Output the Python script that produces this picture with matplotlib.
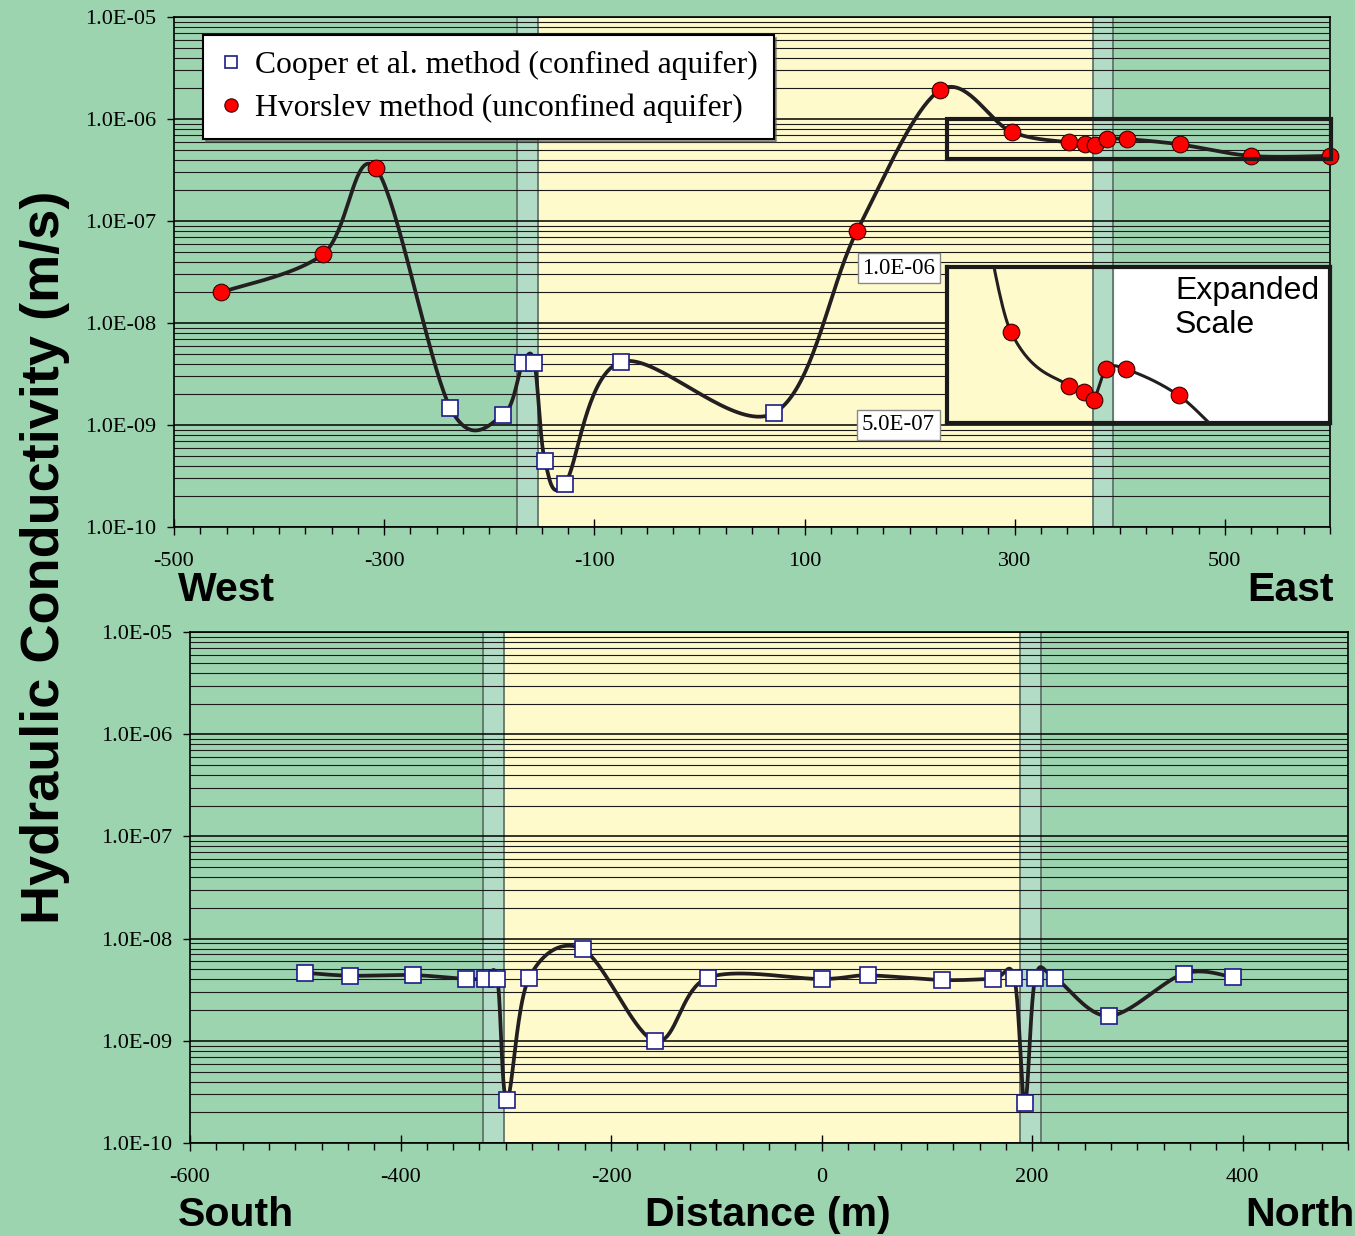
import numpy as np
import matplotlib.pyplot as plt
from matplotlib.ticker import FuncFormatter, FixedLocator, MultipleLocator, NullFormatter
from matplotlib.patches import Rectangle

plt.rcParams['axes.unicode_minus'] = False

# West-East line (top panel)
top_cooper_x = [-237, -187, -168, -157, -147, -128, -75, 71]
top_cooper_k = [1.47e-9, 1.25e-9, 4.05e-9, 4.05e-9, 4.4e-10, 2.64e-10, 4.15e-9, 1.31e-9]
top_hvorslev_x = [-455, -358, -308, 150, 229, 297, 352, 367, 376, 388, 407, 457, 525, 600]
top_hvorslev_k = [2.0e-8, 4.75e-8, 3.3e-7, 8.0e-8, 1.92e-6, 7.5e-7, 5.9e-7, 5.75e-7,
                  5.55e-7, 6.35e-7, 6.35e-7, 5.65e-7, 4.35e-7, 4.35e-7]

# South-North line (bottom panel)
bot_cooper_x = [-491, -448, -388, -338, -320, -308, -299, -278, -227, -158, -108,
                0, 44, 114, 163, 183, 193, 203, 222, 273, 344, 391]
bot_cooper_k = [4.64e-9, 4.34e-9, 4.4e-9, 4.03e-9, 4.05e-9, 4.03e-9, 2.64e-10, 4.1e-9,
                7.9e-9, 9.95e-10, 4.15e-9, 4.03e-9, 4.37e-9, 3.94e-9, 4.05e-9, 4.15e-9,
                2.44e-10, 4.15e-9, 4.08e-9, 1.75e-9, 4.54e-9, 4.2e-9]

# zones: (transition start, yellow start, yellow end, transition end)
top_zone = [-174, -154, 375, 394]
bot_zone = [-322, -302, 188, 208]

k_decades = [1e-10, 1e-9, 1e-8, 1e-7, 1e-6, 1e-5]

GREEN = '#9dd4b0'
YELLOW = '#fffacb'
BAND = '#b3dcc6'
SERIF = 'Liberation Serif'
SANS = 'Liberation Sans'


def excel_smooth(xs, ks, n=40):
    # bezier smoothing through points, done in log space like a log chart
    xs = np.asarray(xs, float)
    ys = np.log10(np.asarray(ks, float))
    m = len(xs)
    px, py = [], []
    t = np.linspace(0, 1, n)
    for i in range(m - 1):
        i0 = max(i - 1, 0)
        i3 = min(i + 2, m - 1)
        x1, y1, x2, y2 = xs[i], ys[i], xs[i + 1], ys[i + 1]
        c1x = x1 + (x2 - xs[i0]) / 6
        c1y = y1 + (y2 - ys[i0]) / 6
        c2x = x2 - (xs[i3] - x1) / 6
        c2y = y2 - (ys[i3] - y1) / 6
        bx = (1-t)**3*x1 + 3*(1-t)**2*t*c1x + 3*(1-t)*t**2*c2x + t**3*x2
        by = (1-t)**3*y1 + 3*(1-t)**2*t*c1y + 3*(1-t)*t**2*c2y + t**3*y2
        px.extend(bx)
        py.extend(by)
    return np.array(px), 10**np.array(py)


def k_label(v, pos):
    return '%.1E' % v


def style_axis(ax, xmin, xmax, zone, xticks):
    ax.set_facecolor(GREEN)
    ax.set_yscale('log')
    ax.set_ylim(1e-10, 1e-5)
    ax.set_xlim(xmin, xmax)
    ax.axvspan(zone[0], zone[1], color=BAND, zorder=0.1)
    ax.axvspan(zone[1], zone[2], color=YELLOW, zorder=0.1)
    ax.axvspan(zone[2], zone[3], color=BAND, zorder=0.1)
    for xv in zone:
        ax.axvline(xv, color='#5a6a60', lw=1.2, zorder=0.2)
    minors = [d * s for d in k_decades[:-1] for s in range(2, 10)]
    ax.yaxis.set_major_locator(FixedLocator(k_decades))
    ax.yaxis.set_minor_locator(FixedLocator(minors))
    ax.yaxis.set_major_formatter(FuncFormatter(k_label))
    ax.yaxis.set_minor_formatter(NullFormatter())
    ax.grid(True, which='major', axis='y', color='black', lw=1.1, zorder=0.3)
    ax.grid(True, which='minor', axis='y', color='#1a1a1a', lw=0.8, zorder=0.3)
    ax.set_axisbelow(True)
    ax.xaxis.set_major_locator(FixedLocator(xticks))
    ax.xaxis.set_minor_locator(FixedLocator(np.arange(xmin, xmax + 1, 25)))
    ax.xaxis.set_minor_formatter(NullFormatter())
    ax.tick_params(axis='y', which='major', length=5, width=1, pad=8, labelsize=16)
    ax.tick_params(axis='y', which='minor', length=0)
    ax.tick_params(axis='x', which='major', direction='inout', length=12, width=1, pad=12, labelsize=16)
    ax.tick_params(axis='x', which='minor', direction='out', length=5, width=1)
    for lab in ax.get_xticklabels() + ax.get_yticklabels():
        lab.set_fontfamily(SERIF)
    for s in ax.spines.values():
        s.set_color('black')
        s.set_linewidth(1.2)


fig = plt.figure(figsize=(13.55, 12.36), dpi=100)
fig.patch.set_facecolor(GREEN)

ax1 = fig.add_axes([0.1284, 0.5736, 0.8531, 0.4126])
ax2 = fig.add_axes([0.1402, 0.0752, 0.8546, 0.4134])

style_axis(ax1, -500, 600, top_zone, [-500, -300, -100, 100, 300, 500])
style_axis(ax2, -600, 500, bot_zone, [-600, -400, -200, 0, 200, 400])

sq_style = dict(ls='none', marker='s', ms=11, mfc='white', mec='#1c1c8a', mew=1.2, zorder=5, clip_on=False)
ci_style = dict(ls='none', marker='o', ms=12, mfc='#ff0000', mec='#3a0000', mew=0.8, zorder=5, clip_on=False)
line_style = dict(color='#231f20', lw=2.7, zorder=4, solid_capstyle='round')

# top panel
all_x = top_cooper_x + top_hvorslev_x
all_k = top_cooper_k + top_hvorslev_k
order = np.argsort(all_x)
cx, ck = excel_smooth(np.array(all_x)[order], np.array(all_k)[order])
ax1.plot(cx, ck, **line_style)
h1, = ax1.plot(top_cooper_x, top_cooper_k, label='Cooper et al. method (confined aquifer)', **sq_style)
h2, = ax1.plot(top_hvorslev_x, top_hvorslev_k, label='Hvorslev method (unconfined aquifer)', **ci_style)

# box around the part shown on the expanded scale
ax1.add_patch(Rectangle((236, 4.1e-7), 365, 1e-6 - 4.1e-7, fill=False, ec='#1a1a1a', lw=3, zorder=6, clip_on=False))

leg = ax1.legend(handles=[h1, h2], loc='upper left', bbox_to_anchor=(0.025, 0.965), borderaxespad=0,
                 prop={'family': SERIF, 'size': 22.8}, frameon=True, fancybox=False, shadow=True,
                 handletextpad=0.35, labelspacing=0.42, borderpad=0.5, handlelength=0.8,
                 markerscale=0.8)
leg.get_frame().set_edgecolor('black')
leg.get_frame().set_linewidth(1.5)
leg.set_zorder(10)

# expanded scale inset
axi = fig.add_axes([947/1355, 1 - 423/1236, 383/1355, 156/1236])
axi.set_facecolor('white')
axi.set_yscale('log')
axi.set_xlim(236.2, 601)
axi.set_ylim(5e-7, 1e-6)
axi.axvspan(236.2, top_zone[2], color=YELLOW, zorder=0.1)
axi.axvspan(top_zone[2], top_zone[3], color=BAND, zorder=0.1)
for xv in top_zone[2:]:
    axi.axvline(xv, color='#5a6a60', lw=1.2, zorder=0.2)
axi.plot(cx, ck, color='#231f20', lw=2.2, zorder=4)
axi.plot(top_hvorslev_x, top_hvorslev_k, ls='none', marker='o', ms=12, mfc='#ff0000', mec='#3a0000', mew=0.8, zorder=5)
axi.yaxis.set_major_locator(FixedLocator([]))
axi.yaxis.set_minor_locator(FixedLocator([]))
axi.xaxis.set_major_locator(FixedLocator([]))
axi.xaxis.set_minor_locator(FixedLocator([]))
for s in axi.spines.values():
    s.set_color('#1a1a1a')
    s.set_linewidth(3)
axi.text(0.595, 0.94, 'Expanded\nScale', transform=axi.transAxes, ha='left', va='top',
         fontsize=23, family=SANS, linespacing=1.15)

box = dict(boxstyle='square,pad=0.2', fc='white', ec='#888888', lw=1)
fig.text(935/1355, 1 - 268/1236, '1.0E-06', ha='right', va='center', fontsize=16.5, family=SERIF, bbox=box)
fig.text(935/1355, 1 - 425/1236, '5.0E-07', ha='right', va='center', fontsize=16.5, family=SERIF, bbox=box)

# bottom panel
bx, bk = excel_smooth(bot_cooper_x, bot_cooper_k)
ax2.plot(bx, bk, **line_style)
ax2.plot(bot_cooper_x, bot_cooper_k, **sq_style)

# labels
fig.text(45/1355, 1 - 557/1236, 'Hydraulic Conductivity (m/s)', rotation=90, ha='center', va='center',
         fontsize=39, fontweight='bold', family=SANS)
lab = dict(fontsize=29.5, fontweight='bold', family=SANS, va='center')
fig.text(178/1355, 1 - 590/1236, 'West', ha='left', **lab)
fig.text(1334/1355, 1 - 590/1236, 'East', ha='right', **lab)
fig.text(178/1355, 1 - 1215/1236, 'South', ha='left', **lab)
fig.text(768/1355, 1 - 1215/1236, 'Distance (m)', ha='center', **lab)
fig.text(1354/1355, 1 - 1215/1236, 'North', ha='right', **lab)

fig.savefig('out.png', dpi=100, facecolor=GREEN)
